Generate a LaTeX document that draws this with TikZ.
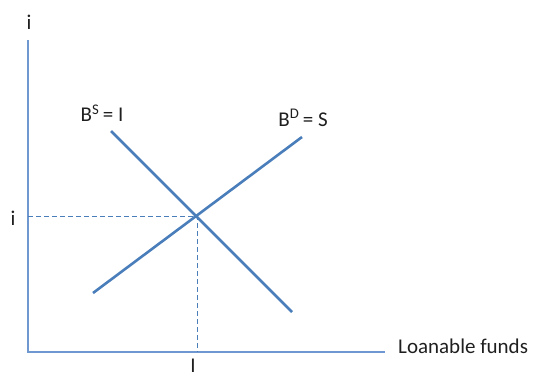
\documentclass[tikz,border=0pt]{standalone}
\usepackage{fontspec}
\setmainfont{Carlito}
\definecolor{axisblue}{HTML}{6F98D0}
\definecolor{curveblue}{HTML}{4A7EBB}
\definecolor{txt}{HTML}{1F1F1F}
\begin{document}
\begin{tikzpicture}[x=1pt,y=-1pt,
  axis/.style={draw=axisblue,line width=1.4pt},
  curve/.style={draw=curveblue,line width=2.6pt},
  guide/.style={draw=curveblue,line width=1pt,dash pattern=on 5pt off 3pt},
  lbl/.style={text=txt,font=\fontsize{21}{25}\selectfont,inner sep=0pt}]
\useasboundingbox (0,0) rectangle (533,380);
\coordinate (O) at (28,352);
\coordinate (ytop) at (28,40);
\coordinate (xend) at (385,352);
\draw[axis] (ytop) -- (O) -- (xend);
\coordinate (s1) at (111,131);
\coordinate (s2) at (292,312);
\coordinate (d1) at (93,293);
\coordinate (d2) at (302,137);
\draw[curve] (s1) -- (s2);
\draw[curve] (d1) -- (d2);
\coordinate (E) at (197,216);
\coordinate (Ey) at (28,216);
\coordinate (Ex) at (197,352);
\draw[guide] (Ey) -- (E) -- (Ex);
\node[lbl] (itop) at (29,22) {i};
\node[lbl] (iy) at (13,218) {i};
\node[lbl] (Ix) at (193,366) {I};
\node[lbl] (bs) at (102,113) {B\textsuperscript{S}\,= I};
\node[lbl] (bd) at (303,118) {B\textsuperscript{D}\,= S};
\node[lbl,anchor=west] (lf) at (398,346) {Loanable funds};
\end{tikzpicture}
\end{document}
